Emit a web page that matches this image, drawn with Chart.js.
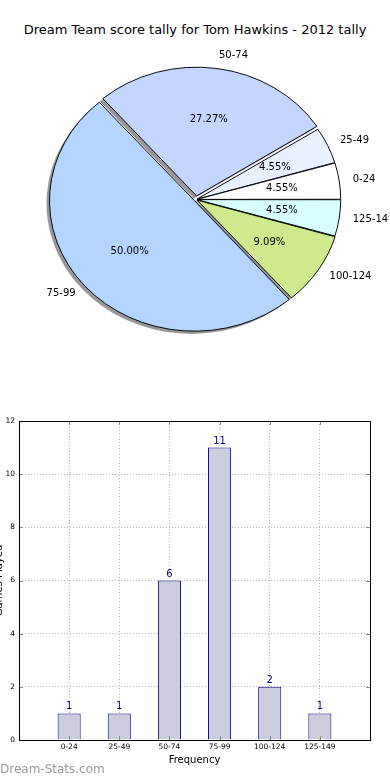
<!DOCTYPE html>
<html><head><meta charset="utf-8">
<script src="https://cdn.jsdelivr.net/npm/chart.js@4/dist/chart.umd.min.js"></script>
<style>
html,body{margin:0;padding:0;background:#fff;overflow:hidden;width:390px;height:780px;position:relative;font-family:'DejaVu Sans',sans-serif;}
#title{position:absolute;left:0;top:22px;width:390px;text-align:center;font-size:13px;color:#000;line-height:16px;white-space:nowrap;}
#pie{position:absolute;left:3px;top:0;}
#bar{position:absolute;left:-7px;top:400px;}
#wm{position:absolute;left:0;top:762px;font-size:12px;line-height:15px;color:#999;white-space:nowrap;}
</style></head><body>
<div id="title">Dream Team score tally for Tom Hawkins - 2012 tally</div>
<canvas id="pie" width="386" height="399"></canvas>
<canvas id="bar" width="397" height="380"></canvas>
<div id="wm">Dream-Stats.com</div>
<script>
// ---- data ----
const categories = ['0-24', '25-49', '50-74', '75-99', '100-124', '125-149'];
const counts = [1, 1, 6, 11, 2, 1];
const yTicks = [0, 2, 4, 6, 8, 10, 12];
const xTitle = 'Frequency';
const yTitle = 'Games Played';

// ---- styles ----
const sliceColors = ['#ffffff', '#e8efff', '#c4d6ff', '#b3d5ff', '#cfea8c', '#d8ffff'];
const sliceOffsets = [4, 4, 16, 8, 6, 4];
const FONT = '"DejaVu Sans", sans-serif';
const PIE_R = 143;
const K = 0.9; // vertical squash of the pie (elliptical axes)

const rev = a => a.slice().reverse();
const total = counts.reduce((s, v) => s + v, 0);

const pieEllipse = {
  id: 'pieEllipse',
  beforeDatasetsDraw(chart) {
    const ctx = chart.ctx;
    const meta = chart.getDatasetMeta(0);
    const cy = meta.data[0].y;
    ctx.save();
    ctx.translate(0, cy * (1 - K));
    ctx.scale(1, K);
    meta.data.forEach(arc => {
      const p = arc.getProps(['x', 'y', 'startAngle', 'endAngle', 'outerRadius', 'circumference'], true);
      const off = (arc.options.offset || 0) / 4;
      const mid = (p.startAngle + p.endAngle) / 2;
      const fix = 1 - Math.sin(Math.min(Math.PI, p.circumference));
      const r = p.outerRadius + off * fix;
      const ox = p.x + Math.cos(mid) * off - 3, oy = p.y + Math.sin(mid) * off + 3;
      ctx.beginPath();
      ctx.moveTo(ox, oy);
      ctx.arc(ox, oy, r, p.startAngle, p.endAngle);
      ctx.closePath();
      ctx.fillStyle = 'rgba(50,50,50,0.5)';
      ctx.fill();
    });
  },
  afterDatasetsDraw(chart) {
    const ctx = chart.ctx;
    ctx.restore();
    const meta = chart.getDatasetMeta(0);
    const labels = chart.data.labels;
    const vals = chart.data.datasets[0].data;
    ctx.save();
    ctx.font = '10px ' + FONT;
    ctx.fillStyle = '#000';
    ctx.textBaseline = 'middle';
    meta.data.forEach((arc, i) => {
      const p = arc.getProps(['x', 'y', 'startAngle', 'endAngle', 'outerRadius'], true);
      const off = (arc.options.offset || 0) / 4;
      const mid = (p.startAngle + p.endAngle) / 2;
      const c = Math.cos(mid), s = Math.sin(mid);
      const pos = f => {
        const d = off + f * p.outerRadius;
        return [p.x + c * d, p.y + s * d * K];
      };
      const [lx, ly] = pos(1.1);
      ctx.textAlign = c > 0 ? 'left' : 'right';
      ctx.fillText(labels[i], lx, ly);
      const [px, py] = pos(0.6);
      ctx.textAlign = 'center';
      ctx.fillText((vals[i] / total * 100).toFixed(2) + '%', px, py);
    });
    ctx.restore();
  }
};

new Chart(document.getElementById('pie'), {
  type: 'pie',
  data: {
    labels: rev(categories),
    datasets: [{
      data: rev(counts),
      backgroundColor: rev(sliceColors),
      borderColor: '#000',
      borderWidth: 1,
      offset: rev(sliceOffsets)
    }]
  },
  options: {
    responsive: false,
    animation: false,
    rotation: 90,
    radius: PIE_R,
    layout: { padding: 0 },
    plugins: { legend: { display: false }, tooltip: { enabled: false } }
  },
  plugins: [pieEllipse]
});

const barDecor = {
  id: 'barDecor',
  afterDraw(chart) {
    const ctx = chart.ctx;
    const a = chart.chartArea;
    const xs = chart.scales.x, ys = chart.scales.y;
    ctx.save();
    // inward tick marks
    ctx.strokeStyle = '#888';
    ctx.lineWidth = 1;
    ctx.beginPath();
    categories.forEach((c, i) => {
      const x = Math.round(xs.getPixelForValue(i)) + 0.5;
      ctx.moveTo(x, a.top); ctx.lineTo(x, a.top + 4);
      ctx.moveTo(x, a.bottom); ctx.lineTo(x, a.bottom - 4);
    });
    yTicks.forEach(v => {
      const y = Math.round(ys.getPixelForValue(v)) + 0.5;
      ctx.moveTo(a.left, y); ctx.lineTo(a.left + 4, y);
      ctx.moveTo(a.right, y); ctx.lineTo(a.right - 4, y);
    });
    ctx.stroke();
    // frame
    ctx.strokeStyle = '#000';
    ctx.strokeRect(Math.round(a.left) + 0.5, Math.round(a.top) + 0.5,
                   Math.round(a.right - a.left), Math.round(a.bottom - a.top));
    // value labels
    ctx.fillStyle = '#000080';
    ctx.font = '10px ' + FONT;
    ctx.textAlign = 'center';
    ctx.textBaseline = 'alphabetic';
    chart.getDatasetMeta(0).data.forEach((bar, i) => {
      ctx.fillText(String(counts[i]), bar.x, bar.y - 4);
    });
    ctx.restore();
  }
};

new Chart(document.getElementById('bar'), {
  type: 'bar',
  data: {
    datasets: [{
      data: counts.map((v, i) => ({ x: i, y: v })),
      backgroundColor: '#ccccdf',
      borderColor: '#000080',
      borderWidth: 1,
      barPercentage: 0.46,
      categoryPercentage: 1
    }]
  },
  options: {
    responsive: false,
    animation: false,
    layout: { padding: { top: 21, right: 20, left: 0, bottom: 0 } },
    plugins: { legend: { display: false }, tooltip: { enabled: false } },
    scales: {
      x: {
        type: 'linear', min: -1, max: 6, z: 1, offset: false,
        afterBuildTicks: s => { s.ticks = categories.map((c, i) => ({ value: i })); },
        afterFit: s => { s.height = 40; },
        ticks: { callback: v => categories[v], font: { size: 7.5, family: FONT }, color: '#000', padding: 3, autoSkip: false, maxRotation: 0 },
        grid: { color: '#b8b8b8', drawTicks: false, lineWidth: 1, offset: false },
        border: { display: false, dash: [1, 2] },
        title: { display: true, text: xTitle, font: { size: 10, family: FONT }, color: '#000', padding: { top: 0, bottom: 14 } }
      },
      y: {
        min: 0, max: 12, z: 1,
        afterBuildTicks: s => { s.ticks = yTicks.map(v => ({ value: v })); },
        afterFit: s => { s.width = 26; },
        ticks: { font: { size: 7.5, family: FONT }, color: '#000', padding: 4 },
        grid: { color: '#b8b8b8', drawTicks: false, lineWidth: 1 },
        border: { display: false, dash: [1, 2] },
        title: { display: true, text: yTitle, font: { size: 10, family: FONT }, color: '#000', padding: 0 }
      }
    }
  },
  plugins: [barDecor]
});
</script>
</body></html>
